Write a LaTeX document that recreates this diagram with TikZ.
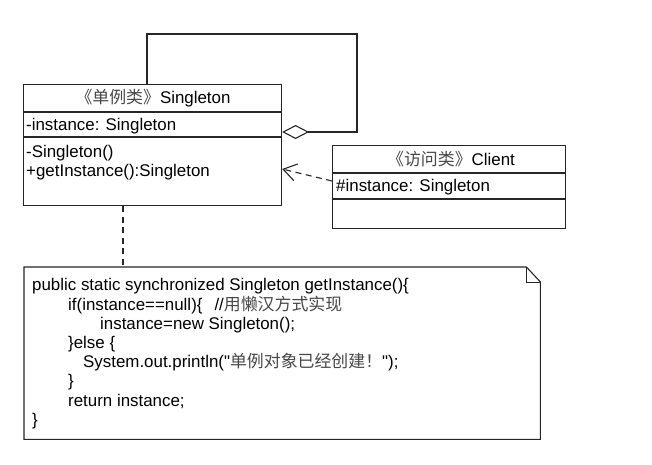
\documentclass[tikz,border=0pt]{standalone}
\usepackage{fontspec}
\setmainfont{Liberation Sans}[Ligatures=TeXOff]
\newfontfamily\cjk{Noto Sans CJK SC}
\usetikzlibrary{arrows.meta}
\newcommand{\zh}[1]{{\cjk\color{black!72}#1}}
\begin{document}
\begin{tikzpicture}[x=1pt,y=-1pt,
  box/.style={draw=black!85, line width=1.1pt, rectangle, inner sep=0pt, anchor=north west},
  txt/.style={inner sep=0pt, anchor=west, font=\fontsize{16.9}{19}\selectfont, text height=11.7pt, text depth=0pt},
  ctxt/.style={txt, anchor=center},
  link/.style={draw=black!85, line width=1.1pt},
  dashlink/.style={link, dash pattern=on 6pt off 4.5pt},
]
\useasboundingbox[fill=white] (0,0) rectangle (652,464);

% Singleton class
\node[box, minimum width=258pt, minimum height=121pt] (single) at (23,84) {};
\draw[link] (23,112) -- (281,112);
\draw[link] (23,137) -- (281,137);
\node[ctxt] (shead) at (153,98) {\zh{《单例类》}Singleton};
\node[txt] (sattr) at (26,124.5) {-instance: Singleton};
\node[txt] (sm1) at (26,152) {-Singleton()};
\node[txt] (sm2) at (26,171) {+getInstance():Singleton};

% Client class
\node[box, minimum width=233pt, minimum height=83pt] (client) at (332,145) {};
\draw[link] (332,173) -- (565,173);
\draw[link] (332,199) -- (565,199);
\node[ctxt] (chead) at (451,160) {\zh{《访问类》}Client};
\node[txt] (cattr) at (336,186) {\#instance: Singleton};

% Note
\node[inner sep=0pt, minimum width=516pt, minimum height=172pt, anchor=north west] (note) at (24,267) {};
\draw[link] (note.north west) -- ([xshift=-14pt]note.north east) -- ([yshift=-15pt]note.north east)
  -- (note.south east) -- (note.south west) -- cycle;
\draw[link, line width=0.9pt] ([xshift=-14pt]note.north east) |- ([yshift=-15pt]note.north east);

\node[txt] (n1) at (32,285) {public static synchronized Singleton getInstance()\{};
\node[txt] (n2) at (68,304.2) {if(instance==null)\{\hspace{12pt}//\zh{用懒汉方式实现}};
\node[txt] (n3) at (100,323.4) {instance=new Singleton();};
\node[txt] (n4) at (68,342.6) {\}else \{};
\node[txt] (n5) at (83,361.8) {System.out.println("\zh{单例对象已经创建！}");};
\node[txt] (n6) at (68,381) {\}};
\node[txt] (n7) at (68,400.2) {return instance;};
\node[txt] (n8) at (32,419.4) {\}};

% Connectors
\coordinate (loopstart) at ([xshift=124pt]single.north west);
\coordinate (loopA) at (147,34);
\coordinate (loopB) at (357,34);
\coordinate (loopC) at (357,132);
\coordinate (loopend) at (single.east |- loopC);
\draw[link, -{Diamond[open, length=27pt, width=14pt]}] (loopstart) -- (loopA) -- (loopB) -- (loopC) -- (loopend);

\coordinate (depfrom) at (client.west |- 0,181);
\coordinate (depto) at (single.east |- 0,169);
\draw[dashlink, -{Straight Barb[length=13pt, width=17pt, line width=1.1pt]}] (depfrom) -- (depto);

\coordinate (notefrom) at ([xshift=100pt]single.south west);
\coordinate (noteto) at ([xshift=99pt]note.north west);
\draw[dashlink] (notefrom) -- (noteto);
\end{tikzpicture}
\end{document}
